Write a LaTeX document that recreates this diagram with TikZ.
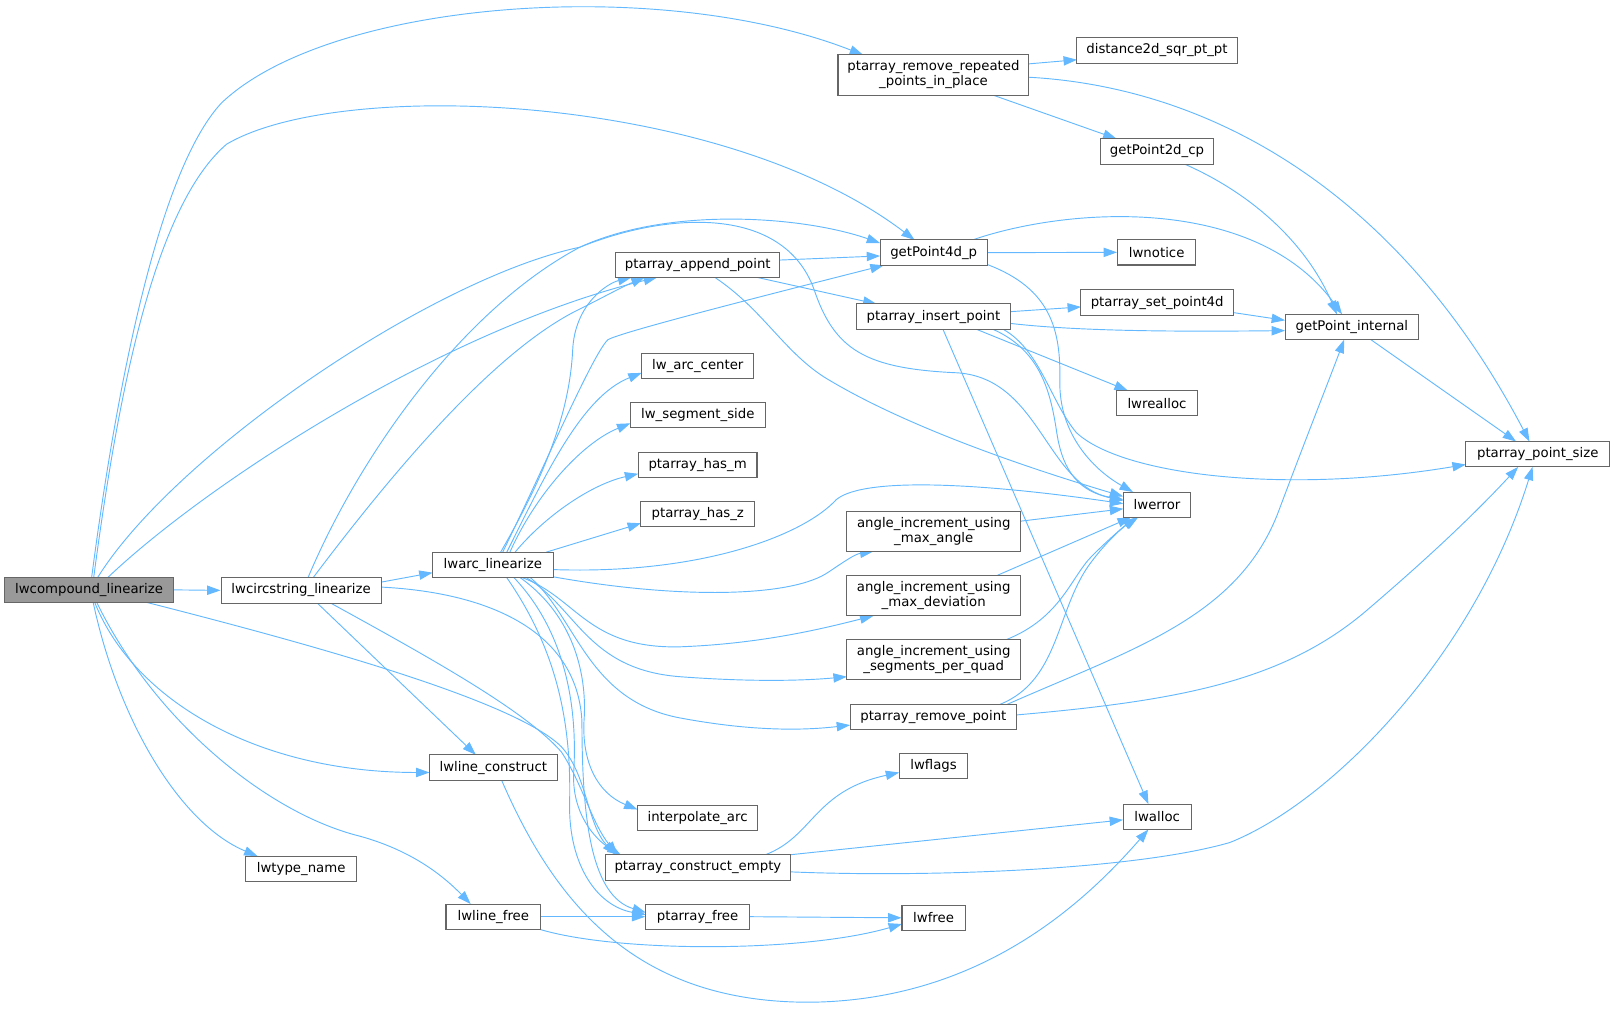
\documentclass[tikz,border=0pt]{standalone}
\usepackage{fontspec}
\newfontfamily\dvs{DejaVu Sans}
\usetikzlibrary{arrows.meta,calc}
\definecolor{edgeblue}{HTML}{63B8FF}
\definecolor{bordergray}{HTML}{666666}
\definecolor{maingray}{HTML}{999999}
\pgfdeclarelayer{bg}
\pgfsetlayers{bg,main}
\tikzset{
  fn/.style={draw=bordergray, line width=1pt, fill=white, minimum height=24.6pt,
    inner xsep=2pt, inner ysep=0pt, font={\dvs\fontsize{12.9}{14.6}\selectfont}},
  fn2/.style={fn, minimum height=39pt, align=center},
  edge/.style={draw=edgeblue, line width=0.9pt, -{Triangle[length=13pt,width=9pt]}}
}
\begin{document}
\begin{tikzpicture}[x=1pt,y=-1pt]
\useasboundingbox (0,0) rectangle (1568,981);
% nodes
\node[fn, fill=maingray, minimum width=163.4pt] (A) at (86.5,572.7) {lwcompound\_linearize};
\node[fn, minimum width=155.4pt] (CS) at (292.3,573.2) {lwcircstring\_linearize};
\node[fn, minimum width=117pt] (ARC) at (478.5,548.5) {lwarc\_linearize};
\node[fn2, minimum width=185.4pt] (RR) at (906.3,72.8) {ptarray\_remove\_repeated\\\_points\_in\_place};
\node[fn, minimum width=155.4pt] (D2) at (1123.3,49) {distance2d\_sqr\_pt\_pt};
\node[fn, minimum width=110.6pt] (G2) at (1123.3,147) {getPoint2d\_cp};
\node[fn, minimum width=104pt] (G4) at (906.5,245.3) {getPoint4d\_p};
\node[fn, minimum width=159pt] (AP) at (677.5,257) {ptarray\_append\_point};
\node[fn, minimum width=76pt] (NOT) at (1123,245) {lwnotice};
\node[fn, minimum width=149.3pt] (IP) at (906.3,307.4) {ptarray\_insert\_point};
\node[fn, minimum width=148pt] (SP) at (1123.5,293.8) {ptarray\_set\_point4d};
\node[fn, minimum width=129.7pt] (GI) at (1312.5,317.5) {getPoint\_internal};
\node[fn, minimum width=109pt] (AC) at (677.5,355.5) {lw\_arc\_center};
\node[fn, minimum width=79.4pt] (RA) at (1123.3,391.5) {lwrealloc};
\node[fn, minimum width=131pt] (SS) at (677.5,403.2) {lw\_segment\_side};
\node[fn, minimum width=139.7pt] (PS) at (1493,441) {ptarray\_point\_size};
\node[fn, minimum width=115.3pt] (HM) at (677.3,451.2) {ptarray\_has\_m};
\node[fn, minimum width=65.8pt] (ERR) at (1123.4,490) {lwerror};
\node[fn, minimum width=110.4pt] (HZ) at (677.5,499.3) {ptarray\_has\_z};
\node[fn2, minimum width=168.7pt] (AMA) at (906.6,515.8) {angle\_increment\_using\\\_max\_angle};
\node[fn2, minimum width=168.7pt] (AMD) at (906.5,578.4) {angle\_increment\_using\\\_max\_deviation};
\node[fn2, minimum width=168.7pt] (ASQ) at (906.5,640.5) {angle\_increment\_using\\\_segments\_per\_quad};
\node[fn, minimum width=161.7pt] (RP) at (906.2,696.1) {ptarray\_remove\_point};
\node[fn, minimum width=124pt] (LC) at (479,745.2) {lwline\_construct};
\node[fn, minimum width=66.8pt] (FL) at (906.4,744) {lwflags};
\node[fn, minimum width=116.7pt] (IA) at (677.3,794.4) {interpolate\_arc};
\node[fn, minimum width=66.3pt] (AL) at (1123.5,793) {lwalloc};
\node[fn, minimum width=107.8pt] (TN) at (292.4,843.5) {lwtype\_name};
\node[fn, minimum width=180.2pt] (CE) at (677.6,842.2) {ptarray\_construct\_empty};
\node[fn, minimum width=92pt] (LF) at (479,890) {lwline\_free};
\node[fn, minimum width=100.6pt] (PF) at (677.3,890) {ptarray\_free};
\node[fn, minimum width=61.3pt] (FR) at (906.4,891.1) {lwfree};
% edges
\begin{pgfonlayer}{bg}
% from lwcompound_linearize
\draw[edge] (A.east) -- (CS.west);
\draw[edge] ($(A)+(2.5,-12.3)$) .. controls (110,400) and (150,170) .. (215,100) .. controls (320,0) and (640,-24) .. ($(RR)+(-68.3,-19.5)$);
\draw[edge] ($(A)+(4.5,-12.3)$) .. controls (115,380) and (150,200) .. (220,140) .. controls (330,75) and (700,90) .. ($(G4)+(-18.5,-12.3)$);
\draw[edge] ($(A)+(18.5,-12.3)$) .. controls (200,470) and (430,320) .. ($(AP)+(-39.5,12.3)$);
\draw[edge] ($(A)+(8.5,-12.3)$) .. controls (170,440) and (420,270) .. (563,240) .. controls (650,205) and (760,200) .. (790,280) .. controls (810,340) and (840,358) .. (930,362) .. controls (1010,368) and (1015,470) .. ($(ERR)+(-32.9,-4)$);
\draw[edge] ($(A)+(5.5,12.3)$) .. controls (130,680) and (250,750) .. ($(LC)+(-62,4.8)$);
\draw[edge] ($(A)+(4,12.3)$) .. controls (115,700) and (175,800) .. ($(TN)+(-42.4,-12.3)$);
\draw[edge] ($(A)+(7.5,12.3)$) .. controls (150,700) and (260,790) .. (350,812) .. controls (400,826) and (430,850) .. ($(LF)+(-22,-12.3)$);
\draw[edge] ($(A)+(56.5,12.3)$) .. controls (300,625) and (500,680) .. (545,725) .. controls (570,752) and (570,800) .. ($(CE)+(-80,-12.3)$);
% from lwcircstring_linearize
\draw[edge] ($(CS)+(77.7,-8)$) -- ($(ARC)+(-58.5,7.5)$);
\draw[edge] ($(CS)+(6.7,-12.3)$) .. controls (350,440) and (450,300) .. (563,240) .. controls (650,200) and (780,210) .. ($(G4)+(-52,-9.3)$);
\draw[edge] ($(CS)+(11.7,-12.3)$) .. controls (380,460) and (480,340) .. (563,300) .. controls (585,289) and (605,278) .. ($(AP)+(-51.5,12.3)$);
\draw[edge] ($(CS)+(15.7,12.3)$) -- ($(LC)+(-17,-12.3)$);
\draw[edge] ($(CS)+(28.7,12.3)$) .. controls (420,640) and (510,690) .. (545,730) .. controls (565,760) and (575,800) .. ($(CE)+(-78,-12.3)$);
\draw[edge] ($(CS)+(77.7,-3.2)$) .. controls (470,575) and (560,610) .. (565,700) .. controls (565,800) and (575,870) .. ($(PF)+(-50.3,-4)$);
% from lwarc_linearize
\draw[edge] ($(ARC)+(7.5,-12.3)$) .. controls (530,460) and (553,400) .. (556,340) .. controls (558,295) and (590,275) .. ($(AP)+(-64.5,12.3)$);
\draw[edge] ($(ARC)+(9.5,-12.3)$) .. controls (530,450) and (575,345) .. (590,330) .. controls (600,323) and (750,285) .. ($(G4)+(-48.5,12.3)$);
\draw[edge] ($(ARC)+(13.5,-12.3)$) .. controls (530,460) and (565,385) .. ($(AC)+(-54.5,6.5)$);
\draw[edge] ($(ARC)+(16.5,-12.3)$) .. controls (520,480) and (565,430) .. ($(SS)+(-65.5,7.8)$);
\draw[edge] ($(ARC)+(21.5,-12.3)$) .. controls (530,500) and (575,470) .. ($(HM)+(-57.65,8.8)$);
\draw[edge] ($(ARC)+(51.5,-12.3)$) -- ($(HZ)+(-55.2,8.7)$);
\draw[edge] ($(ARC)+(58.5,4.5)$) .. controls (680,558) and (780,520) .. (812,485) .. controls (840,462) and (960,470) .. ($(ERR)+(-32.9,-1)$);
\draw[edge] ($(ARC)+(58.5,11.5)$) .. controls (660,582) and (770,580) .. (805,555) .. controls (820,545) and (830,538) .. ($(AMA)+(-58.6,19.5)$);
\draw[edge] ($(ARC)+(28.5,12.3)$) .. controls (560,580) and (570,630) .. (660,628) .. controls (740,625) and (800,610) .. ($(AMD)+(-58.5,19.5)$);
\draw[edge] ($(ARC)+(32.5,12.3)$) .. controls (560,590) and (570,650) .. (660,657) .. controls (740,663) and (790,660) .. ($(ASQ)+(-84.35,16.5)$);
\draw[edge] ($(ARC)+(36.5,12.3)$) .. controls (560,600) and (570,680) .. (660,697) .. controls (740,712) and (790,708) .. ($(RP)+(-80.85,7.9)$);
\draw[edge] ($(ARC)+(26.5,12.3)$) .. controls (560,600) and (570,660) .. (567,700) .. controls (565,740) and (580,770) .. ($(IA)+(-58.35,-8.4)$);
\draw[edge] ($(ARC)+(20.5,12.3)$) .. controls (555,620) and (560,700) .. (557,750) .. controls (555,790) and (578,815) .. ($(CE)+(-75,-12.3)$);
\draw[edge] ($(ARC)+(13.5,12.3)$) .. controls (540,630) and (555,700) .. (553,780) .. controls (552,840) and (580,880) .. ($(PF)+(-50.3,-2)$);
% lower left
\draw[edge] ($(LC)+(8,12.3)$) .. controls (540,880) and (620,975) .. (790,973) .. controls (950,970) and (1050,880) .. ($(AL)+(-8.5,12.3)$);
\draw[edge] (LF.east) -- (PF.west);
\draw[edge] ($(LF)+(45,12.3)$) .. controls (600,925) and (780,925) .. ($(FR)+(-30.65,6)$);
\draw[edge] (PF.east) -- (FR.west);
\draw[edge] ($(CE)+(65.4,-12.3)$) .. controls (790,812) and (790,768) .. ($(FL)+(-33.4,6)$);
\draw[edge] ($(CE)+(89.4,-12.3)$) -- ($(AL)+(-33.15,3)$);
\draw[edge] ($(CE)+(90.1,4.3)$) .. controls (900,852) and (1100,845) .. (1194,818) .. controls (1290,780) and (1430,640) .. ($(PS)+(-5,12.3)$);
% ptarray_append_point
\draw[edge] ($(AP)+(79.5,-4.5)$) -- ($(G4)+(-52,3.2)$);
\draw[edge] ($(AP)+(57.5,12.3)$) -- ($(IP)+(-55.3,-12.3)$);
\draw[edge] ($(AP)+(16.5,12.3)$) .. controls (740,300) and (760,340) .. (800,366) .. controls (880,415) and (1000,455) .. ($(ERR)+(-32.9,-8)$);
% getPoint4d_p
\draw[edge] (G4.east) -- (NOT.west);
\draw[edge] ($(G4)+(37.5,-12.3)$) .. controls (1040,200) and (1220,190) .. ($(GI)+(-9.5,-12.3)$);
\draw[edge] ($(G4)+(52,11.5)$) .. controls (1020,280) and (1030,320) .. (1029,370) .. controls (1028,420) and (1060,455) .. ($(ERR)+(-23.4,-12.3)$);
% ptarray_insert_point
\draw[edge] ($(IP)+(74.65,-4.8)$) -- ($(SP)+(-74,4.2)$);
\draw[edge] ($(IP)+(74.65,6.6)$) .. controls (1050,322) and (1150,322) .. ($(GI)+(-64.85,3.5)$);
\draw[edge] ($(SP)+(74,9.7)$) -- ($(GI)+(-64.85,-6.5)$);
\draw[edge] ($(IP)+(41.7,12.3)$) -- ($(RA)+(-28.3,-12.3)$);
\draw[edge] ($(IP)+(57.7,12.3)$) .. controls (1010,340) and (1020,380) .. (1026,420) .. controls (1032,460) and (1050,478) .. ($(ERR)+(-32.9,-5)$);
\draw[edge] ($(IP)+(67.7,12.3)$) .. controls (1010,340) and (1020,390) .. (1045,420) .. controls (1090,462) and (1250,480) .. ($(PS)+(-69.85,10)$);
\draw[edge] ($(IP)+(9.2,12.3)$) -- ($(AL)+(-8.5,-12.3)$);
% ptarray_remove_repeated_points_in_place
\draw[edge] ($(RR)+(92.7,-10.8)$) -- ($(D2)+(-77.7,9)$);
\draw[edge] ($(RR)+(57.7,19.5)$) -- ($(G2)+(-39.3,-12.3)$);
\draw[edge] ($(RR)+(92.7,2.2)$) .. controls (1180,85) and (1360,190) .. ($(PS)+(-8,-12.3)$);
\draw[edge] ($(G2)+(26.7,12.3)$) .. controls (1220,190) and (1270,240) .. ($(GI)+(-14.5,-12.3)$);
\draw[edge] ($(GI)+(18.5,12.3)$) -- ($(PS)+(-21,-12.3)$);
% ptarray_remove_point
\draw[edge] ($(RP)+(64.8,-12.3)$) .. controls (1030,660) and (1025,590) .. (1060,545) .. controls (1075,525) and (1090,512) .. ($(ERR)+(-18.4,12.3)$);
\draw[edge] ($(RP)+(71.8,-12.3)$) .. controls (1100,630) and (1200,600) .. (1240,500) .. controls (1270,420) and (1290,370) .. ($(GI)+(-7.5,12.3)$);
\draw[edge] ($(RP)+(80.85,-2)$) .. controls (1150,680) and (1250,660) .. (1330,590) .. controls (1400,530) and (1440,490) .. ($(PS)+(-19,12.3)$);
% angle_increment_*
\draw[edge] ($(AMA)+(84.35,-9.8)$) -- ($(ERR)+(-32.9,4)$);
\draw[edge] ($(AMD)+(61.1,-19.5)$) -- ($(ERR)+(-25.4,12.3)$);
\draw[edge] ($(ASQ)+(70.5,-19.5)$) .. controls (1030,600) and (1040,560) .. (1060,540) .. controls (1075,525) and (1090,512) .. ($(ERR)+(-20.4,12.3)$);
\end{pgfonlayer}
\end{tikzpicture}
\end{document}
